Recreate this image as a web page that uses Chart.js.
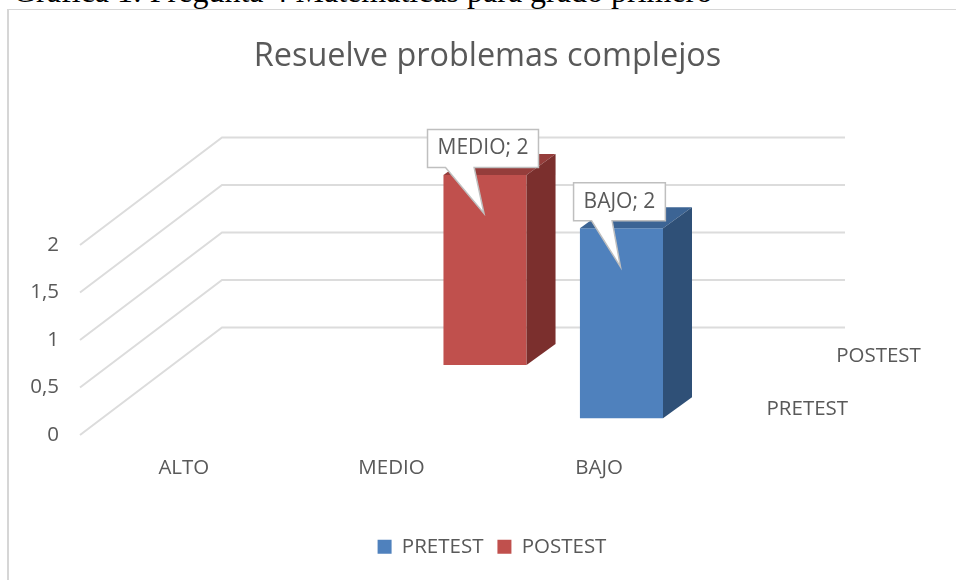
<!DOCTYPE html>
<html><head><meta charset="utf-8">
<style>
html,body{margin:0;padding:0;background:#fff;width:956px;height:580px;overflow:hidden;position:relative}
#cap{position:absolute;left:13px;top:-27px;font:32px "Liberation Serif";color:#000;white-space:nowrap}
#box{position:absolute;left:7px;top:9px;width:970px;height:590px;border-style:solid;border-color:#d6d6d6;border-width:1px 0 0 2px;box-sizing:border-box;background:#fff}
#box canvas{position:absolute;left:0;top:0}
</style>
<script src="https://cdn.jsdelivr.net/npm/chart.js@4/dist/chart.umd.js"></script>
</head><body>
<div id="cap">Gráfica 1: Pregunta 4 Matemáticas para grado primero</div>
<div id="box"><canvas id="c" width="957" height="557"></canvas></div>
<script>
const categories = ['ALTO','MEDIO','BAJO'];
const seriesNames = ['PRETEST','POSTEST'];
const pretest = [null,null,2];
const posttest = [null,2,null];
const yTickValues = [0,0.5,1,1.5,2];
const yTickLabels = ['0','0,5','1','1,5','2'];
const chartTitle = 'Resuelve problemas complejos';
const FONT = '"Open Sans"';
const INK = '#595959';
const GRID = '#dcdcdc';

// front plane of the 3D box, in canvas pixels
const PLOT = {left:71,right:694,top:235,bottom:425};
// how far each series plane sits behind the front plane
const planes = { x0:[22.3,16.7], x1:[93.5,70] };
const WALL = [142,107.5];
const BAR_DEPTH = [29,21];
const faces = [
  {front:'#4f81bd', top:'#3c6494', side:'#2f5077'},
  {front:'#c0504d', top:'#953d3b', side:'#7b2f2d'}
];

const depthPlugin = {
  id:'depth',
  afterLayout(chart){
    const sc = chart.scales;
    const x = sc.x, y = sc.y;
    x.left = PLOT.left; x.right = PLOT.right; x.width = PLOT.right-PLOT.left;
    x.top = PLOT.bottom; x.bottom = PLOT.bottom+50; x.height = 50;
    x.configure();
    y.left = 0; y.right = PLOT.left; y.width = PLOT.left;
    y.top = PLOT.top; y.bottom = PLOT.bottom; y.height = PLOT.bottom-PLOT.top;
    y.configure();
    [['x0','y0'],['x1','y1']].forEach(([xk,yk])=>{
      const [dx,dy] = planes[xk];
      sc[xk].left = PLOT.left+dx; sc[xk].right = PLOT.right+dx; sc[xk].width = x.width;
      sc[xk].top = PLOT.top; sc[xk].bottom = PLOT.bottom;
      sc[xk].configure();
      sc[yk].top = PLOT.top-dy; sc[yk].bottom = PLOT.bottom-dy; sc[yk].height = y.height;
      sc[yk].configure();
    });
    chart.legend.left += 4.5; chart.legend.right += 4.5;
  },
  beforeDatasetsDraw(chart){
    const {ctx,scales:{x,y}} = chart;
    ctx.save();
    ctx.strokeStyle = GRID; ctx.lineWidth = 2;
    yTickValues.forEach(v=>{
      const py = y.getPixelForValue(v);
      ctx.beginPath();
      ctx.moveTo(x.left,py);
      ctx.lineTo(x.left+WALL[0],py-WALL[1]);
      ctx.lineTo(x.right+WALL[0],py-WALL[1]);
      ctx.stroke();
    });
    ctx.restore();
  },
  afterDatasetsDraw(chart){
    const {ctx} = chart;
    ctx.save();
    chart.data.datasets.forEach((ds,i)=>{
      chart.getDatasetMeta(i).data.forEach((el,j)=>{
        if(ds.data[j]==null) return;
        const p = el.getProps(['x','y','base','width'],true);
        const l=p.x-p.width/2, r=p.x+p.width/2;
        const [dx,dy]=BAR_DEPTH;
        ctx.fillStyle=faces[i].top;
        ctx.beginPath();ctx.moveTo(l,p.y);ctx.lineTo(l+dx,p.y-dy);ctx.lineTo(r+dx,p.y-dy);ctx.lineTo(r,p.y);ctx.closePath();ctx.fill();
        ctx.fillStyle=faces[i].side;
        ctx.beginPath();ctx.moveTo(r,p.y);ctx.lineTo(r+dx,p.y-dy);ctx.lineTo(r+dx,p.base-dy);ctx.lineTo(r,p.base);ctx.closePath();ctx.fill();
      });
    });
    // depth axis labels, one per series plane
    ctx.font='20.5px '+FONT; ctx.fillStyle=INK; ctx.textAlign='center'; ctx.textBaseline='middle';
    [['x0','y0',0],['x1','y1',1]].forEach(([xk,yk,i])=>{
      ctx.fillText(seriesNames[i],chart.scales[xk].right+82,chart.scales[yk].bottom-9);
    });
    // callouts
    chart.data.datasets.forEach((ds,i)=>{
      chart.getDatasetMeta(i).data.forEach((el,j)=>{
        if(ds.data[j]==null) return;
        const p = el.getProps(['x','y','base','width'],true);
        const text = categories[j]+'; '+ds.data[j];
        ctx.font='21px '+FONT;
        const w = ctx.measureText(text).width+20, h=38;
        const bx = p.x-2-w/2, by=p.y-45.5;
        const tipx=p.x-1, tipy=p.y+38.5;
        ctx.beginPath();
        ctx.moveTo(bx,by);ctx.lineTo(bx+w,by);ctx.lineTo(bx+w,by+h);
        ctx.lineTo(bx+w*0.42,by+h);ctx.lineTo(tipx,tipy);ctx.lineTo(bx+18,by+h);
        ctx.lineTo(bx,by+h);ctx.closePath();
        ctx.fillStyle='#fff';ctx.fill();
        ctx.strokeStyle='#bfbfbf';ctx.lineWidth=1.5;ctx.stroke();
        ctx.fillStyle=INK;ctx.textAlign='center';ctx.textBaseline='middle';
        ctx.fillText(text,bx+w/2,by+h/2);
      });
    });
    ctx.restore();
  }
};

const hiddenCat = {type:'category',display:false,offset:true};
const hiddenVal = {type:'linear',display:false,min:0,max:2};

new Chart(document.getElementById('c'),{
  type:'bar',
  data:{labels:categories,datasets:[
    {label:seriesNames[0],data:pretest,backgroundColor:faces[0].front,xAxisID:'x0',yAxisID:'y0',clip:false},
    {label:seriesNames[1],data:posttest,backgroundColor:faces[1].front,xAxisID:'x1',yAxisID:'y1',clip:false}
  ]},
  plugins:[depthPlugin],
  options:{
    responsive:false,animation:false,
    grouped:false,
    categoryPercentage:1,barPercentage:0.4,
    plugins:{
      tooltip:{enabled:false},
      title:{display:true,text:chartTitle,color:INK,font:{family:FONT,size:32.4,weight:'normal'},padding:{top:27,bottom:0}},
      legend:{position:'bottom',labels:{color:INK,font:{family:FONT,size:20.5},boxWidth:14,boxHeight:14,padding:14}}
    },
    scales:{
      x:{type:'category',offset:true,grid:{display:false,drawTicks:false},border:{display:false},
         ticks:{color:INK,font:{family:FONT,size:20.5},maxRotation:0,autoSkip:false,padding:21}},
      y:{type:'linear',min:0,max:2,afterBuildTicks(a){a.ticks=yTickValues.map(v=>({value:v}));},
         grid:{display:false,drawTicks:false},border:{display:false},
         ticks:{color:INK,font:{family:FONT,size:20.5},autoSkip:false,padding:21,
           callback(v){return yTickLabels[yTickValues.indexOf(v)];}}},
      x0:hiddenCat,x1:hiddenCat,y0:hiddenVal,y1:hiddenVal
    }
  }
});
</script>
</body></html>
